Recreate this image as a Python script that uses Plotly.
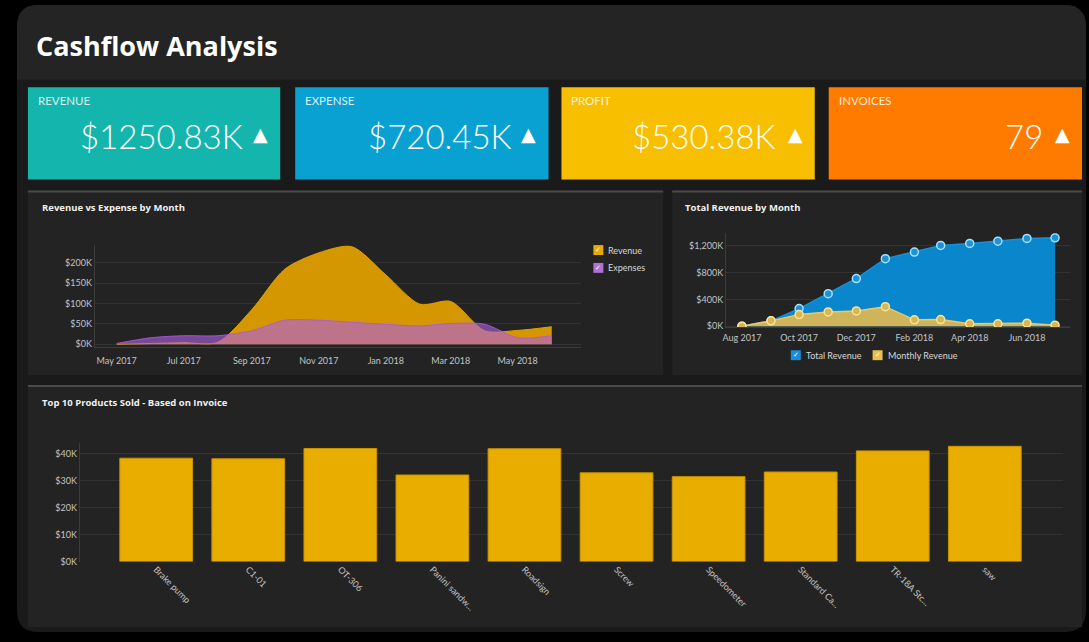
import plotly.graph_objects as go

# ---------------- data ----------------
kpi_labels = ["REVENUE", "EXPENSE", "PROFIT", "INVOICES"]
kpi_values = ["$1250.83K", "$720.45K", "$530.38K", "79"]

rve_months = ["2017-05-01", "2017-06-01", "2017-07-01", "2017-08-01", "2017-09-01", "2017-10-01",
              "2017-11-01", "2017-12-01", "2018-01-01", "2018-02-01", "2018-03-01", "2018-04-01",
              "2018-05-01", "2018-06-01"]
revenue_k = [0, 2, 4, 5, 85, 184, 224, 239, 170, 98, 105, 33, 34, 43]
expenses_k = [2, 16, 21, 21, 33, 59, 59, 54, 49, 45, 51, 49, 16, 21]

tr_months = ["2017-08-01", "2017-09-01", "2017-10-01", "2017-11-01", "2017-12-01", "2018-01-01",
             "2018-02-01", "2018-03-01", "2018-04-01", "2018-05-01", "2018-06-01", "2018-07-01"]
total_revenue_k = [0, 79, 262, 484, 711, 1007, 1106, 1205, 1235, 1269, 1309, 1318]
monthly_revenue_k = [0, 79, 173, 212, 227, 291, 94, 99, 35, 35, 44, 15]

products = ["Brake pump", "C1-01", "OT-306", "Panini sandw...", "Roadsign", "Screw",
            "Speedometer", "Standard Ca...", "TR-18A Stc...", "saw"]
product_sales_k = [38.2, 38.0, 41.8, 32.0, 41.7, 32.8, 31.4, 33.1, 40.9, 42.6]

# ---------------- helpers ----------------
W, H = 1089, 642
def fx(x): return x / W
def fy(y): return 1 - y / H

FONT = "Lato"
TICK = dict(family=FONT, size=9, color="#c4c4c4")
GRID = "#333333"
AXL = "#3c3c3c"

fig = go.Figure()

# Chart 1: revenue vs expense
fig.add_trace(go.Scatter(x=rve_months, y=revenue_k, mode="lines", line=dict(shape="spline", smoothing=0.8, color="#e0a200", width=1),
                         fill="tozeroy", fillcolor="rgba(222,158,0,0.95)", name="Revenue", xaxis="x", yaxis="y", showlegend=False))
fig.add_trace(go.Scatter(x=rve_months, y=expenses_k, mode="lines", line=dict(shape="spline", smoothing=0.8, color="rgba(170,90,215,0.9)", width=1),
                         fill="tozeroy", fillcolor="rgba(175,95,225,0.62)", name="Expenses", xaxis="x", yaxis="y", showlegend=False))

# Chart 2: total revenue
fig.add_trace(go.Scatter(x=tr_months, y=total_revenue_k, mode="lines+markers",
                         line=dict(color="#1a8fd6", width=1.5), fill="tozeroy", fillcolor="#0a86cc",
                         marker=dict(size=8, color="#1d92d8", line=dict(color="#a6e2ff", width=1.5)),
                         name="Total Revenue", xaxis="x2", yaxis="y2", showlegend=False))
fig.add_trace(go.Scatter(x=tr_months, y=monthly_revenue_k, mode="lines+markers",
                         line=dict(color="#e8c868", width=1.5), fill="tozeroy", fillcolor="rgba(214,182,88,0.97)",
                         marker=dict(size=8, color="#d9b650", line=dict(color="#fbe39a", width=1.5)),
                         name="Monthly Revenue", xaxis="x2", yaxis="y2", showlegend=False))

# Chart 3: bars
fig.add_trace(go.Bar(x=products, y=product_sales_k, marker=dict(color="#e9ad00", line=dict(color="#c99400", width=1)),
                     xaxis="x3", yaxis="y3", showlegend=False, width=0.79))

# ---------------- shapes (background panels) ----------------
shapes = []
def rrect_path(x0, y0, x1, y1, r):
    pts = [
        ("M", [(x0, y0 + r)]), ("Q", [(x0, y0), (x0 + r, y0)]), ("L", [(x1 - r, y0)]),
        ("Q", [(x1, y0), (x1, y0 + r)]), ("L", [(x1, y1 - r)]), ("Q", [(x1, y1), (x1 - r, y1)]),
        ("L", [(x0 + r, y1)]), ("Q", [(x0, y1), (x0, y1 - r)]),
    ]
    s = ""
    for cmd, ps in pts:
        s += cmd + " " + " ".join(f"{fx(px):.5f},{fy(py):.5f}" for px, py in ps) + " "
    return s + "Z"

def rect(x0, y0, x1, y1, color, line=None):
    shapes.append(dict(type="rect", xref="paper", yref="paper", x0=fx(x0), x1=fx(x1), y0=fy(y1), y1=fy(y0),
                       fillcolor=color, line=dict(width=0) if line is None else line, layer="below"))

shapes.append(dict(type="path", xref="paper", yref="paper", path=rrect_path(14, 5, 1086, 637, 22),
                   fillcolor="#1a1a1a", line=dict(width=0), layer="below"))
# header
shapes.append(dict(type="path", xref="paper", yref="paper",
                   path=f"M {fx(14):.5f},{fy(80):.5f} L {fx(14):.5f},{fy(27):.5f} Q {fx(14):.5f},{fy(5):.5f} {fx(36):.5f},{fy(5):.5f} "
                        f"L {fx(1064):.5f},{fy(5):.5f} Q {fx(1086):.5f},{fy(5):.5f} {fx(1086):.5f},{fy(27):.5f} L {fx(1086):.5f},{fy(80):.5f} Z",
                   fillcolor="#242424", line=dict(width=0), layer="below"))

# KPI boxes
kpi_boxes = [(25, 278, "#14b5ad"), (293, 547, "#09a0d2"), (560, 814, "#f8be00"), (828, 1082, "#ff7b00")]
for x0, x1, c in kpi_boxes:
    rect(x0, 88, x1, 181, c)

# chart panels
for (x0, y0, x1, y1) in [(25, 192, 662, 378), (671, 192, 1082, 378), (25, 388, 1082, 632)]:
    rect(x0, y0, x1, y1, "#232323")
    shapes.append(dict(type="line", xref="paper", yref="paper", x0=fx(x0), x1=fx(x1), y0=fy(y0 + 1), y1=fy(y0 + 1),
                       line=dict(color="#4a4a4a", width=2), layer="below"))

# ---------------- annotations ----------------
ann = []
ann.append(dict(text="<b>Cashflow Analysis</b>", x=fx(31), y=fy(46), xref="paper", yref="paper", xanchor="left", yanchor="middle",
                showarrow=False, font=dict(family="Open Sans", size=27, color="white")))
value_right = [243, 512, 777, 1045]
tri_x = [258, 527, 795, 1062]
for i, (x0, x1, c) in enumerate(kpi_boxes):
    ann.append(dict(text=kpi_labels[i], x=fx(x0 + 8), y=fy(101), xref="paper", yref="paper", xanchor="left", yanchor="middle",
                    showarrow=False, font=dict(family=FONT, size=11.5, color="rgba(255,255,255,0.85)")))
    ann.append(dict(text=kpi_values[i], x=fx(value_right[i]), y=fy(137), xref="paper", yref="paper", xanchor="right", yanchor="middle",
                    showarrow=False, font=dict(family=FONT, size=33, weight=300, color="white")))
    ann.append(dict(text="▲", x=fx(tri_x[i]), y=fy(135), xref="paper", yref="paper", xanchor="center", yanchor="middle",
                    showarrow=False, font=dict(family="DejaVu Sans", size=19, color="white")))

for t, x, y in [("Revenue vs Expense by Month", 37, 209), ("Total Revenue by Month", 682, 209),
                ("Top 10 Products Sold - Based on Invoice", 37, 406)]:
    ann.append(dict(text=f"<b>{t}</b>", x=fx(x), y=fy(y), xref="paper", yref="paper", xanchor="left", yanchor="middle",
                    showarrow=False, font=dict(family="Open Sans", size=9.5, color="#f0f0f0")))

# legends (checkbox style)
def legend_item(x, y, color, label):
    shapes.append(dict(type="rect", xref="paper", yref="paper", x0=fx(x), x1=fx(x + 10), y0=fy(y + 5), y1=fy(y - 5),
                       fillcolor=color, line=dict(width=0)))
    ann.append(dict(text="✓", x=fx(x + 5), y=fy(y), xref="paper", yref="paper", xanchor="center", yanchor="middle",
                    showarrow=False, font=dict(family="DejaVu Sans", size=7, color="white")))
    ann.append(dict(text=label, x=fx(x + 13), y=fy(y), xref="paper", yref="paper", xanchor="left", yanchor="middle",
                    showarrow=False, font=dict(family=FONT, size=9, color="#d8d8d8")))

legend_item(592, 252, "#e9aa00", "Revenue")
legend_item(592, 270, "#b070d8", "Expenses")
legend_item(790, 358, "#1a8fd6", "Total Revenue")
legend_item(872, 358, "#e8c050", "Monthly Revenue")

# ---------------- axes ----------------
common_x = dict(showgrid=False, zeroline=False, tickfont=TICK, showline=True, linecolor=AXL, ticks="", fixedrange=True)
common_y = dict(showgrid=True, gridcolor=GRID, gridwidth=1, zeroline=False, tickfont=TICK, showline=True, linecolor=AXL,
                ticks="", tickprefix="$", ticksuffix="K", fixedrange=True)

fig.update_layout(
    width=W, height=H, autosize=False,
    margin=dict(l=0, r=0, t=0, b=0),
    paper_bgcolor="#000000", plot_bgcolor="rgba(0,0,0,0)",
    shapes=shapes, annotations=ann,
    xaxis=dict(common_x, domain=[fx(92), fx(580)], anchor="y", type="date", range=["2017-04-11", "2018-06-28"],
               dtick="M2", tick0="2017-05-01", tickformat="%b %Y", ticklabelstandoff=5),
    yaxis=dict(common_y, domain=[fy(350), fy(247)], anchor="x", range=[-7.3, 243], dtick=50),
    xaxis2=dict(common_x, domain=[fx(725), fx(1070)], anchor="y2", type="date", range=["2017-07-15", "2018-07-17"],
                dtick="M2", tick0="2017-08-01", tickformat="%b %Y", ticklabelstandoff=2),
    yaxis2=dict(common_y, domain=[fy(330), fy(235)], anchor="x2", range=[-19, 1388], dtick=400, tickformat=",d"),
    xaxis3=dict(common_x, domain=[fx(77), fx(1063)], anchor="y3", range=[-0.83, 9.85], tickangle=45, showline=False),
    yaxis3=dict(common_y, domain=[fy(566), fy(446)], anchor="x3", range=[0, 44], dtick=10),
    bargap=0.2,
)

fig.write_html("out.html", config={"displayModeBar": False},
               post_script="document.body.style.margin='0px';document.body.style.overflow='hidden';")
